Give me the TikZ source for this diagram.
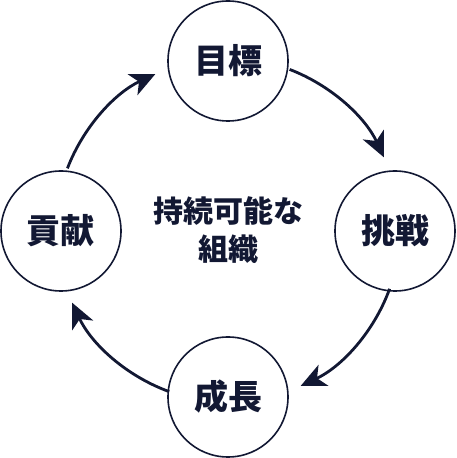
\documentclass[tikz,border=0pt]{standalone}
\usepackage{fontspec}
\setmainfont{Noto Sans CJK JP}
\usetikzlibrary{arrows.meta,calc}
\definecolor{ink}{HTML}{121833}
\begin{document}
\begin{tikzpicture}[x=1pt,y=1pt,
  stage/.style={circle,draw=ink,line width=1.6pt,minimum size=120pt,inner sep=0pt,
    text=ink,font=\fontsize{34}{40}\selectfont\bfseries},
  flow/.style={draw=ink,line width=2.8pt,-{Stealth[length=25pt,width=23pt,inset=7pt]}},
  centertext/.style={text=ink,align=center,font=\fontsize{30}{38}\selectfont\bfseries}]
\useasboundingbox (0,0) rectangle (456,458);
\coordinate (O) at (228,228);
\node[stage] (goal) at (228,397) {目標};
\node[stage] (chal) at (395,227) {挑戦};
\node[stage] (grow) at (228,61) {成長};
\node[stage] (contr) at (61,227) {貢献};
\node[centertext] (mid) at (228,228) {持続可能な\\組織};
\draw[flow] ($(O)+(69:172)$) arc[start angle=69,end angle=25,radius=172];
\draw[flow] ($(O)+(-20:172)$) arc[start angle=-20,end angle=-65,radius=172];
\draw[flow] ($(O)+(-110:172)$) arc[start angle=-110,end angle=-155,radius=172];
\draw[flow] ($(O)+(159:172)$) arc[start angle=159,end angle=115,radius=172];
\end{tikzpicture}
\end{document}
